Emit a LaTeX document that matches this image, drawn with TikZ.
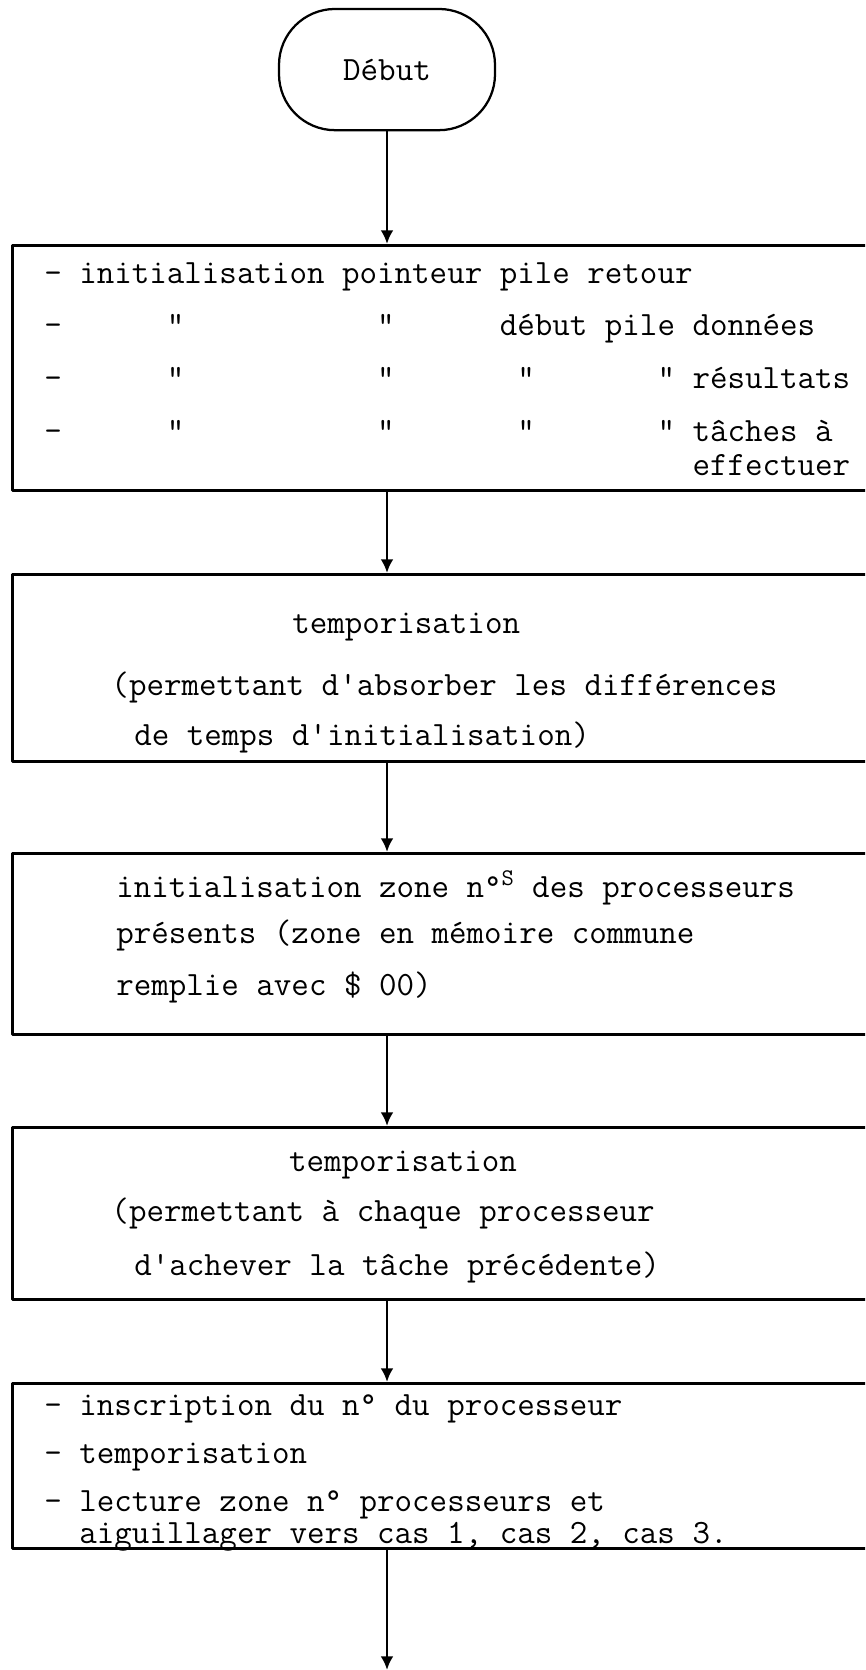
\documentclass[tikz,border=0pt]{standalone}
\usepackage{tikz}
\usetikzlibrary{arrows.meta}
\newcommand{\typo}{\ttfamily\fontsize{24.2}{28}\selectfont}

\begin{document}
\begin{tikzpicture}[
  x=1cm, y=1cm,
  font=\typo,
  >={Latex[length=3.4mm,width=3.2mm]},
  line cap=round, line join=round,
  bloc/.style={draw, line width=1.8pt, minimum width=22cm, anchor=north west, inner sep=0pt},
  oval/.style={draw, line width=1.6pt, rounded corners=1.4cm, minimum width=5.4cm, minimum height=3.03cm},
  ln/.style={anchor=base west, inner sep=0pt},
  flow/.style={->, line width=1.9pt},
]
\useasboundingbox (0,0) rectangle (21.625,41.75);
\clip (0,0) rectangle (21.625,41.75);

\node[oval] (debut) at (9.675,40.01) {Début};

% ----- boxes, running off the right edge -----
\node[bloc, minimum height=6.125cm] (b1) at (0.275,35.65) {};
\node[bloc, minimum height=4.675cm] (b2) at (0.275,27.425) {};
\node[bloc, minimum height=4.525cm] (b3) at (0.275,20.45) {};
\node[bloc, minimum height=4.3cm]   (b4) at (0.275,13.6) {};
\node[bloc, minimum height=4.125cm] (b5) at (0.275,7.2) {};
\coordinate (fin) at (9.675,0);

% ----- (1) initialisation des piles -----
\node[ln] (t1a) at (1.1,34.67) {- initialisation pointeur pile retour};
\node[ln] (t1b) at (1.1,33.37) {-~~~~~~"~~~~~~~~~~~"~~~~~~début pile données};
\node[ln] (t1c) at (1.1,32.045) {-~~~~~~"~~~~~~~~~~~"~~~~~~~"~~~~~~~"~résultats};
\node[ln] (t1d) at (1.1,30.72) {-~~~~~~"~~~~~~~~~~~"~~~~~~~"~~~~~~~"~tâches à};
\node[ln] (t1e) at (1.1,29.85) {~~~~~~~~~~~~~~~~~~~~~~~~~~~~~~~~~~~~~effectuer};

% ----- (2) temporisation -----
\node[ln] (t2a) at (7.3,25.9) {temporisation};
\node[ln] (t2b) at (2.78,24.37) {(permettant d'absorber les différences};
\node[ln] (t2c) at (3.35,23.1) {de temps d'initialisation)};

% ----- (3) zone des processeurs -----
\node[ln] (t3a) at (2.9,19.3) {initialisation zone n°\textsuperscript{S} des processeurs};
\node[ln] (t3b) at (2.9,18.15) {présents (zone en mémoire commune};
\node[ln] (t3c) at (2.9,16.87) {remplie avec \$ 00)};

% ----- (4) temporisation -----
\node[ln] (t4a) at (7.22,12.45) {temporisation};
\node[ln] (t4b) at (2.78,11.2) {(permettant à chaque processeur};
\node[ln] (t4c) at (3.35,9.87) {d'achever la tâche précédente)};

% ----- (5) inscription et aiguillage -----
\node[ln] (t5a) at (1.1,6.37) {- inscription du n° du processeur};
\node[ln] (t5b) at (1.1,5.15) {- temporisation};
\node[ln] (t5c) at (1.1,3.95) {- lecture zone n° processeurs et};
\node[ln] (t5d) at (1.1,3.16) {~~aiguillager vers cas 1, cas 2, cas 3.};

% ----- flow -----
\draw[flow] (debut.south) -- (debut.south |- b1.north);
\draw[flow] (b1.south -| debut) -- (b2.north -| debut);
\draw[flow] (b2.south -| debut) -- (b3.north -| debut);
\draw[flow] (b3.south -| debut) -- (b4.north -| debut);
\draw[flow] (b4.south -| debut) -- (b5.north -| debut);
\draw[flow] (b5.south -| debut) -- (fin);
\end{tikzpicture}
\end{document}
